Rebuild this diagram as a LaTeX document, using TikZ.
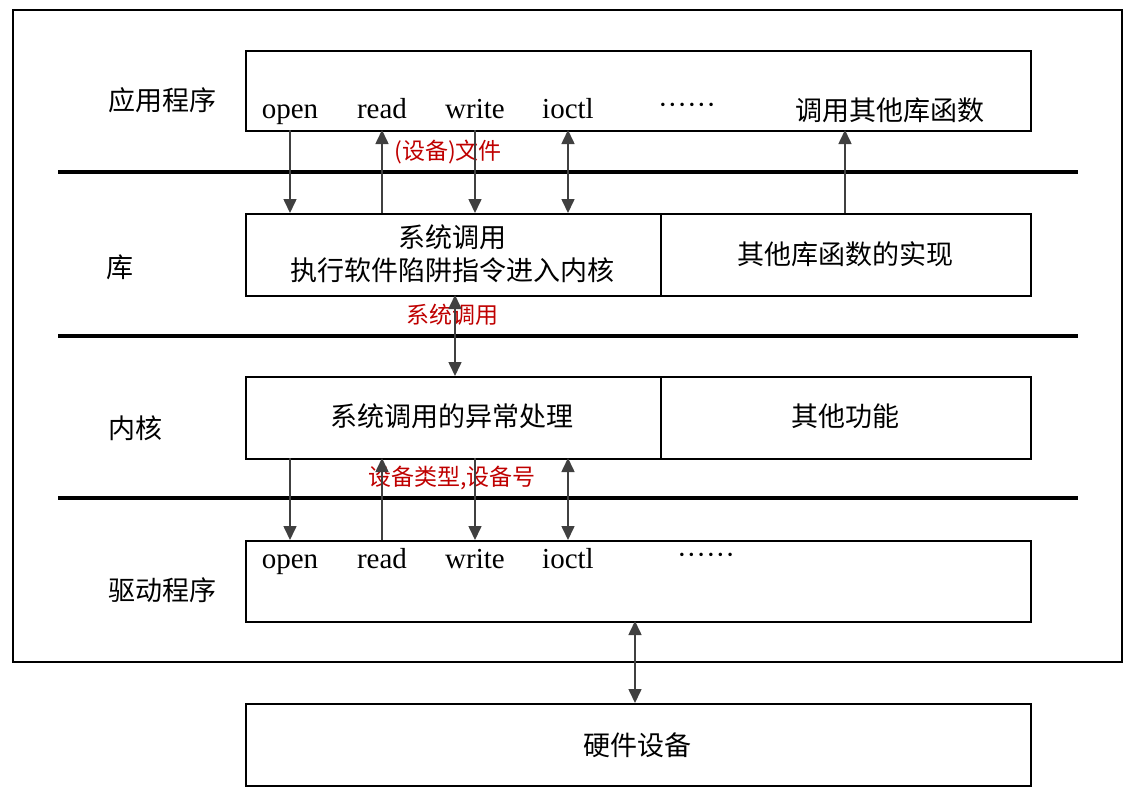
\documentclass[tikz,border=0pt]{standalone}
\usepackage{fontspec}
\setmainfont{Liberation Serif}
\newfontfamily\cjk{Noto Sans CJK SC}
\usetikzlibrary{arrows.meta}
\begin{document}
\begin{tikzpicture}[x=0.5pt,y=-0.5pt,
  box/.style={draw,line width=0.8pt},
  sep/.style={line width=1.6pt},
  arr/.style={draw=black!75,line width=0.8pt,-{Triangle[length=7pt,width=6.5pt]}},
  darr/.style={draw=black!75,line width=0.8pt,{Triangle[length=7pt,width=6.5pt]}-{Triangle[length=7pt,width=6.5pt]}},
  t/.style={font=\fontsize{14.5}{16}\selectfont,anchor=base},
  c/.style={font=\fontsize{13.5}{15}\selectfont\cjk},
  r/.style={font=\fontsize{11.5}{13}\selectfont\cjk,text=red!75!black}]
\useasboundingbox (0,0) rectangle (1142,799);
\draw[line width=1pt] (13,10) rectangle (1122,662);
% layer lines
\draw[sep] (58,172) -- (1078,172);
\draw[sep] (58,336) -- (1078,336);
\draw[sep] (58,498) -- (1078,498);
% boxes
\node[box,minimum width=392.5pt,minimum height=40pt,anchor=north west] (app) at (245,50) {};
\node[box,minimum width=207.5pt,minimum height=41pt,anchor=north west] (lib1) at (245,213) {};
\node[box,minimum width=185pt,minimum height=41pt,anchor=north west] (lib2) at (660,213) {};
\node[box,minimum width=207.5pt,minimum height=41pt,anchor=north west] (k1) at (245,376) {};
\node[box,minimum width=185pt,minimum height=41pt,anchor=north west] (k2) at (660,376) {};
\node[box,minimum width=392.5pt,minimum height=40.5pt,anchor=north west] (drv) at (245,540) {};
\node[box,minimum width=392.5pt,minimum height=41pt,anchor=north west] (hw) at (245,703) {};
% layer labels
\node[c] (l1) at (162,100) {应用程序};
\node[c] (l2) at (120,267) {库};
\node[c] (l3) at (135,428) {内核};
\node[c] (l4) at (162,590) {驱动程序};
% app texts
\node[t] (aopen) at (290,118) {open};
\node[t] (aread) at (382,118) {read};
\node[t] (awrite) at (475,118) {write};
\node[t] (aioctl) at (568,118) {ioctl};
\node[t] (adots) at (687,114) {\textperiodcentered\textperiodcentered\textperiodcentered\textperiodcentered\textperiodcentered\textperiodcentered};
\node[c] (aother) at (890,110) {调用其他库函数};
% lib texts
\node[c] (s1) at (452,237) {系统调用};
\node[c] (s2) at (452,270) {执行软件陷阱指令进入内核};
\node[c] (s3) at (845,254) {其他库函数的实现};
\node[c] (k1t) at (452,416) {系统调用的异常处理};
\node[c] (k2t) at (845,416) {其他功能};
% driver texts
\node[t] (dopen) at (290,568) {open};
\node[t] (dread) at (382,568) {read};
\node[t] (dwrite) at (475,568) {write};
\node[t] (dioctl) at (568,568) {ioctl};
\node[t] (ddots) at (706,564) {\textperiodcentered\textperiodcentered\textperiodcentered\textperiodcentered\textperiodcentered\textperiodcentered};
\node[c] (hwt) at (637,745) {硬件设备};
% red labels
\node[r] (r1) at (448,152) {(设备)文件};
\node[r] (r2) at (452,315) {系统调用};
\node[r] (r3) at (452,478) {设备类型,设备号};
% coordinates for arrows
\foreach \x/\n in {290/a,382/b,475/c,568/d,845/e} {
  \coordinate (u\n) at (\x,130); \coordinate (v\n) at (\x,213);
  \coordinate (p\n) at (\x,458); \coordinate (q\n) at (\x,540);}
\coordinate (m1) at (455,295); \coordinate (m2) at (455,376);
\coordinate (h1) at (635,621); \coordinate (h2) at (635,703);
\draw[arr] (ua) -- (va);
\draw[arr] (vb) -- (ub);
\draw[arr] (uc) -- (vc);
\draw[darr] (ud) -- (vd);
\draw[arr] (ve) -- (ue);
\draw[darr] (m1) -- (m2);
\draw[arr] (pa) -- (qa);
\draw[arr] (qb) -- (pb);
\draw[arr] (pc) -- (qc);
\draw[darr] (pd) -- (qd);
\draw[darr] (h1) -- (h2);
\end{tikzpicture}
\end{document}
